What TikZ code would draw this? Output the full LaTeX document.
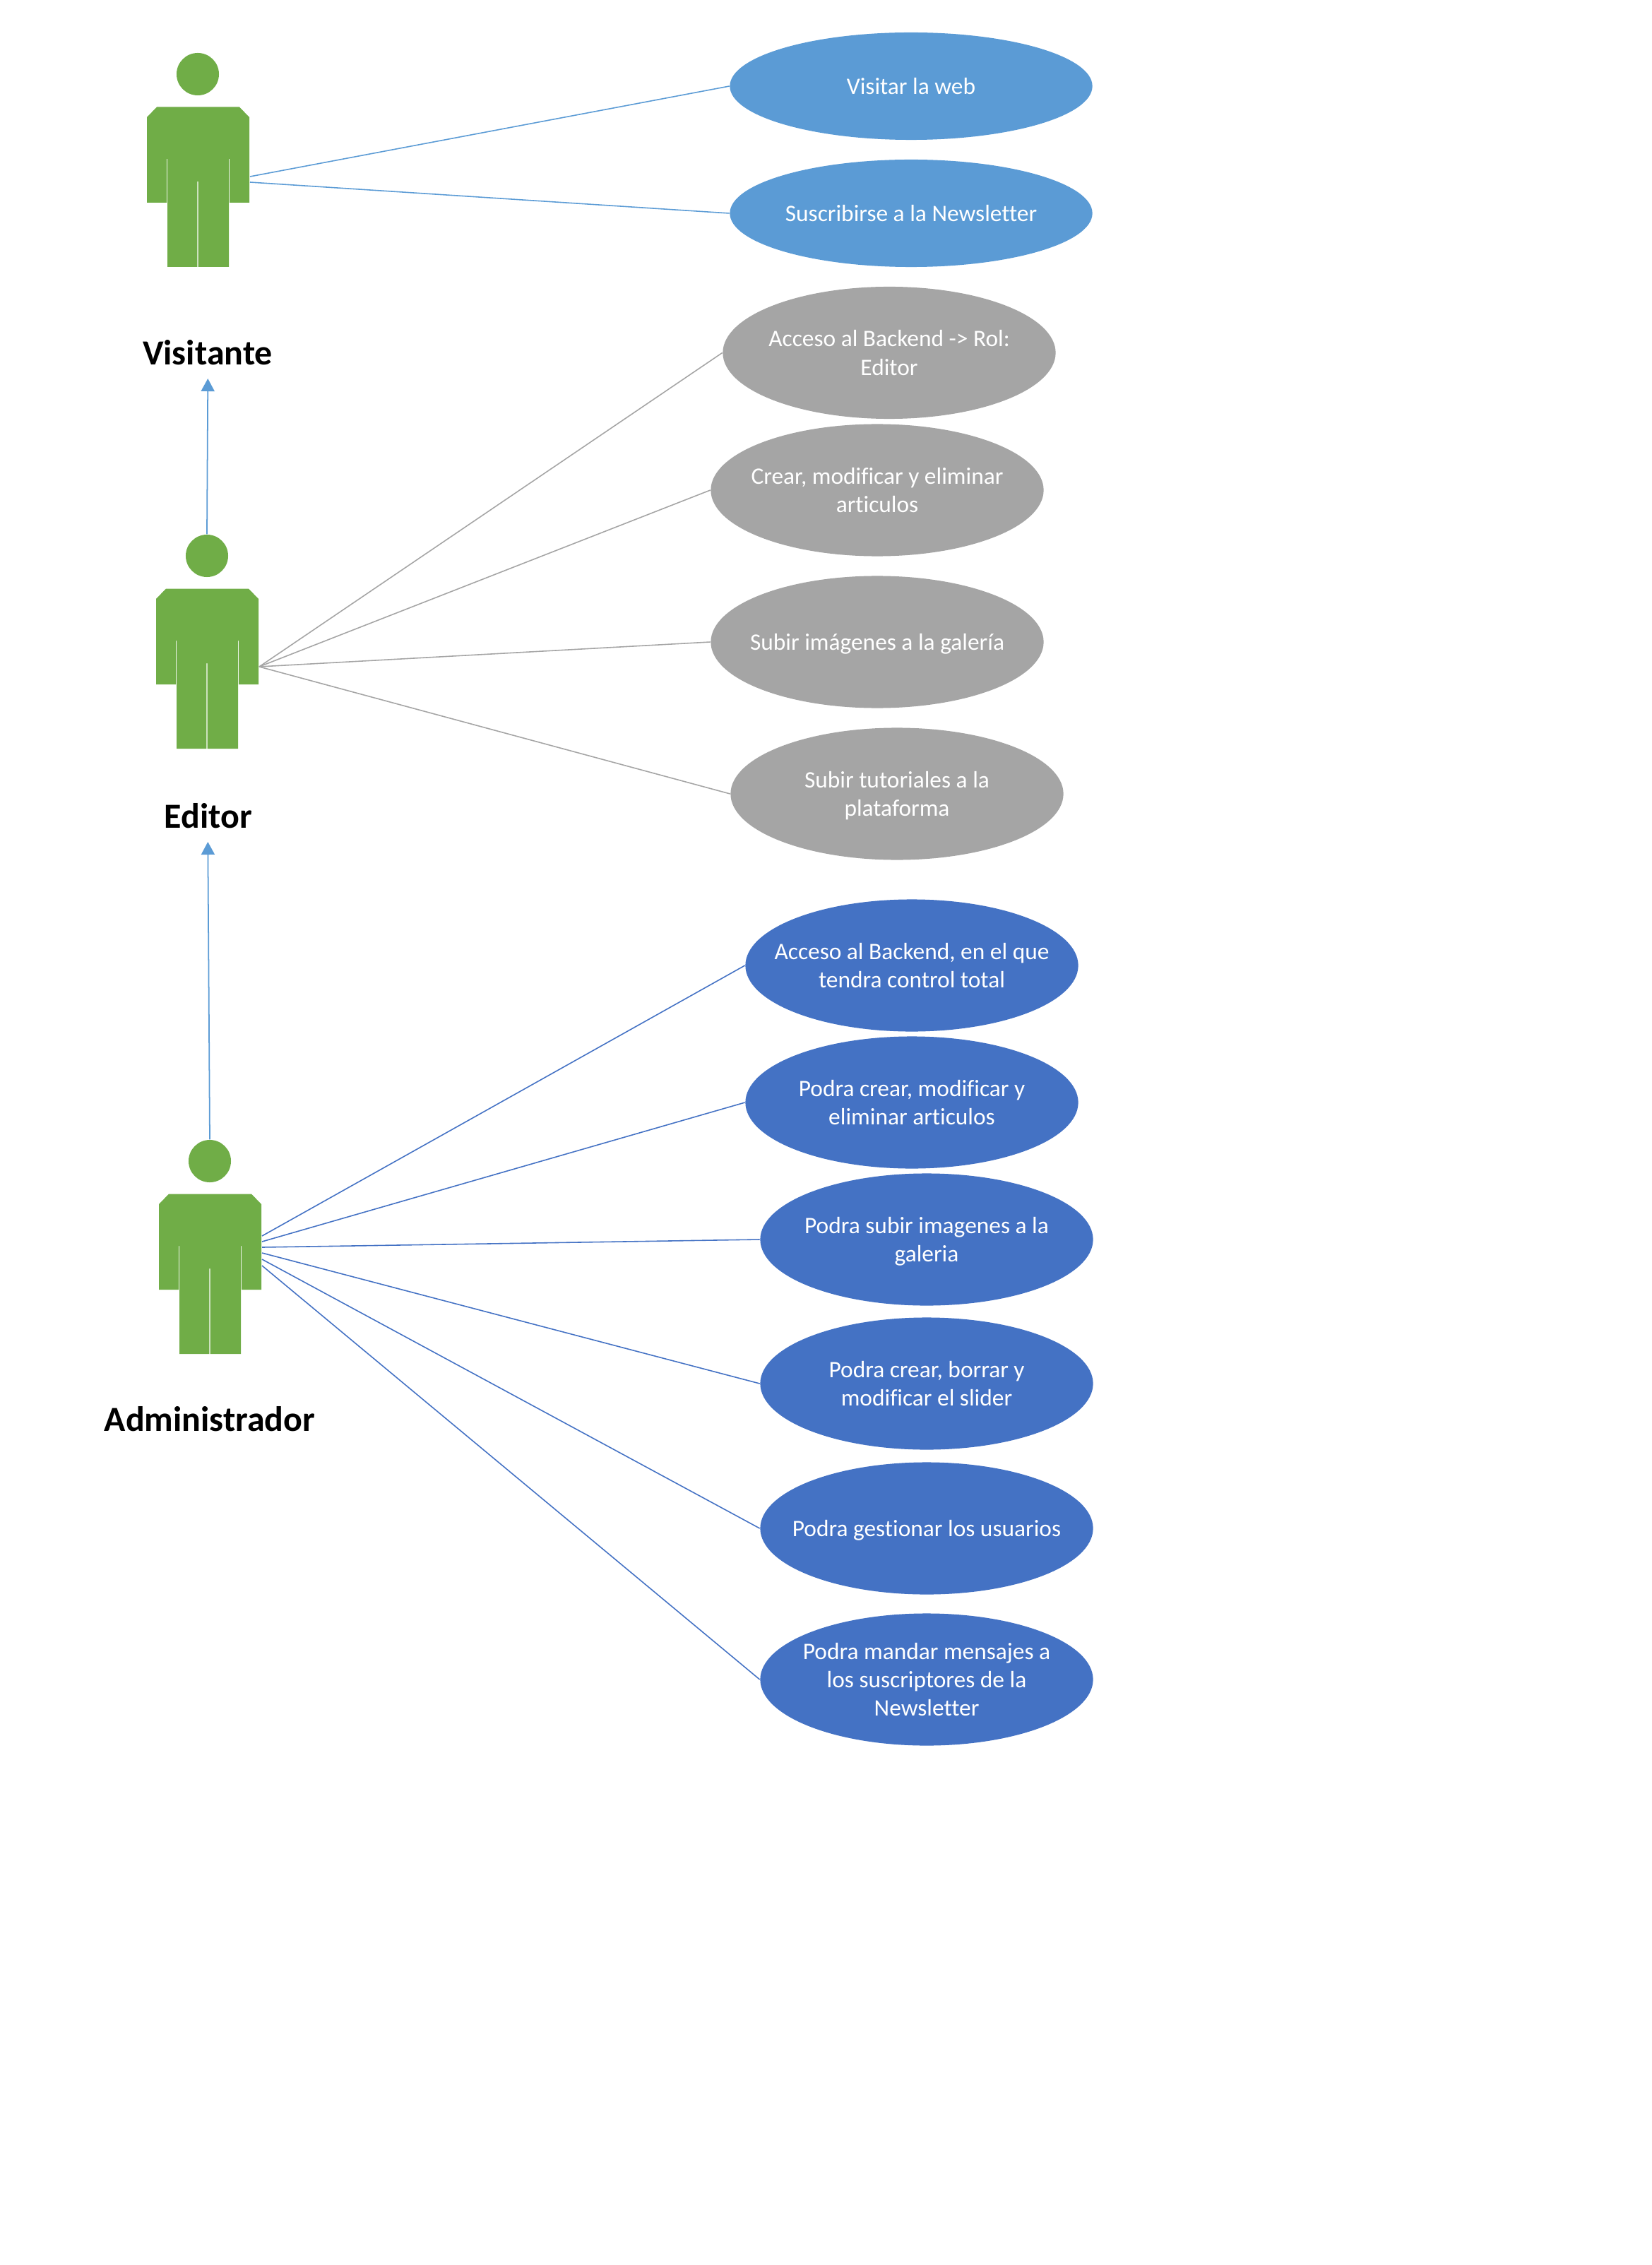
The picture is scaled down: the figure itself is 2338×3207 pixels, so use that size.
\documentclass[tikz,border=0pt]{standalone}
\usepackage{fontspec}
\setmainfont[Ligatures=NoCommon]{Carlito}
\usetikzlibrary{shapes.geometric,arrows.meta}
\definecolor{lightblue}{HTML}{5B9BD5}
\definecolor{midgray}{HTML}{A5A5A5}
\definecolor{deepblue}{HTML}{4472C4}
\definecolor{actorgreen}{HTML}{70AD47}
\newcommand{\tl}[1]{\makebox[0pt][c]{\rule[-0.07cm]{0pt}{0.37cm}#1}}
\tikzset{
  usecase/.style={ellipse,inner sep=0pt,minimum width=4.71cm,minimum height=1.87cm,text=white,
    align=center,font=\fontsize{9.5pt}{11.38pt}\selectfont},
  vcase/.style={usecase,fill=lightblue,minimum width=5.13cm,minimum height=1.52cm},
  ecase/.style={usecase,fill=midgray},
  acase/.style={usecase,fill=deepblue},
  actorlabel/.style={anchor=base,inner sep=0pt,text=black,font=\fontsize{14.2pt}{16pt}\selectfont\bfseries},
  vlink/.style={draw=lightblue,line width=0.45pt},
  elink/.style={draw=midgray,line width=0.45pt},
  alink/.style={draw=deepblue,line width=0.45pt},
  inherit/.style={draw=lightblue,line width=0.5pt,-{Triangle[width=0.19cm,length=0.18cm]}},
  pics/actor/.style={code={
    \node[circle,fill=actorgreen,inner sep=0pt,minimum size=0.6cm] (-head) at (0,0) {};
    \fill[actorgreen] (-58,46.5) -- (59,46.5) -- (73,61) -- (73,182) -- (45,182) -- (45,120) -- (44,120)
      -- (44,273) -- (0.6,273) -- (0.6,152) -- (-0.6,152) -- (-0.6,273) -- (-43,273) -- (-43,120)
      -- (-44,120) -- (-44,182) -- (-72,182) -- (-72,61) -- cycle;
  }}
}
\begin{document}
\begin{tikzpicture}[x=0.01cm,y=-0.01cm]
\useasboundingbox (0,0) rectangle (2338,3207);
% actors
\pic (vis) at (280,105) {actor};
\pic (edi) at (293,787) {actor};
\pic (adm) at (297,1644) {actor};
\node[actorlabel] (vislabel) at (294,516.5) {Visitante};
\node[actorlabel] (edilabel) at (295,1172.5) {Editor};
\node[actorlabel] (admlabel) at (297,2026) {Administrador};
% use cases
\node[vcase] (v1) at (1290,122) {\tl{Visitar la web}};
\node[vcase] (v2) at (1290,302) {\tl{Suscribirse a la Newsletter}};
\node[ecase] (e1) at (1259,499.5) {\tl{Acceso al Backend -> Rol:}\\\tl{Editor}};
\node[ecase] (e2) at (1242,694) {\tl{Crear, modificar y eliminar}\\\tl{articulos}};
\node[ecase] (e3) at (1242,909) {\tl{Subir imágenes a la galería}};
\node[ecase] (e4) at (1270,1124) {\tl{Subir tutoriales a la}\\\tl{plataforma}};
\node[acase] (a1) at (1291,1367) {\tl{Acceso al Backend, en el que}\\\tl{tendra control total}};
\node[acase] (a2) at (1291,1561) {\tl{Podra crear, modificar y}\\\tl{eliminar articulos}};
\node[acase] (a3) at (1312,1755) {\tl{Podra subir imagenes a la}\\\tl{galeria}};
\node[acase] (a4) at (1312,1959) {\tl{Podra crear, borrar y}\\\tl{modificar el slider}};
\node[acase] (a5) at (1312,2164) {\tl{Podra gestionar los usuarios}};
\node[acase] (a6) at (1312,2378) {\tl{Podra mandar mensajes a}\\\tl{los suscriptores de la}\\\tl{Newsletter}};
% free connector ends
\coordinate (vp1) at (354,250);
\coordinate (vp2) at (354,258);
\coordinate (ep) at (367,944);
\coordinate (ap1) at (371,1750);
\coordinate (ap2) at (371,1758);
\coordinate (ap3) at (371,1766);
\coordinate (ap4) at (371,1774);
\coordinate (ap5) at (371,1783);
\coordinate (ap6) at (371,1792);
\coordinate (vistip) at (294.3,536);
\coordinate (editip) at (294.3,1192);
% connectors
\draw[vlink] (vp1) -- (v1.west);
\draw[vlink] (vp2) -- (v2.west);
\draw[elink] (ep) -- (e1.west);
\draw[elink] (ep) -- (e2.west);
\draw[elink] (ep) -- (e3.west);
\draw[elink] (ep) -- (e4.west);
\draw[alink] (ap1) -- (a1.west);
\draw[alink] (ap2) -- (a2.west);
\draw[alink] (ap3) -- (a3.west);
\draw[alink] (ap4) -- (a4.west);
\draw[alink] (ap5) -- (a5.west);
\draw[alink] (ap6) -- (a6.west);
\draw[inherit] (edi-head.north) -- (vistip);
\draw[inherit] (adm-head.north) -- (editip);
\end{tikzpicture}
\end{document}
